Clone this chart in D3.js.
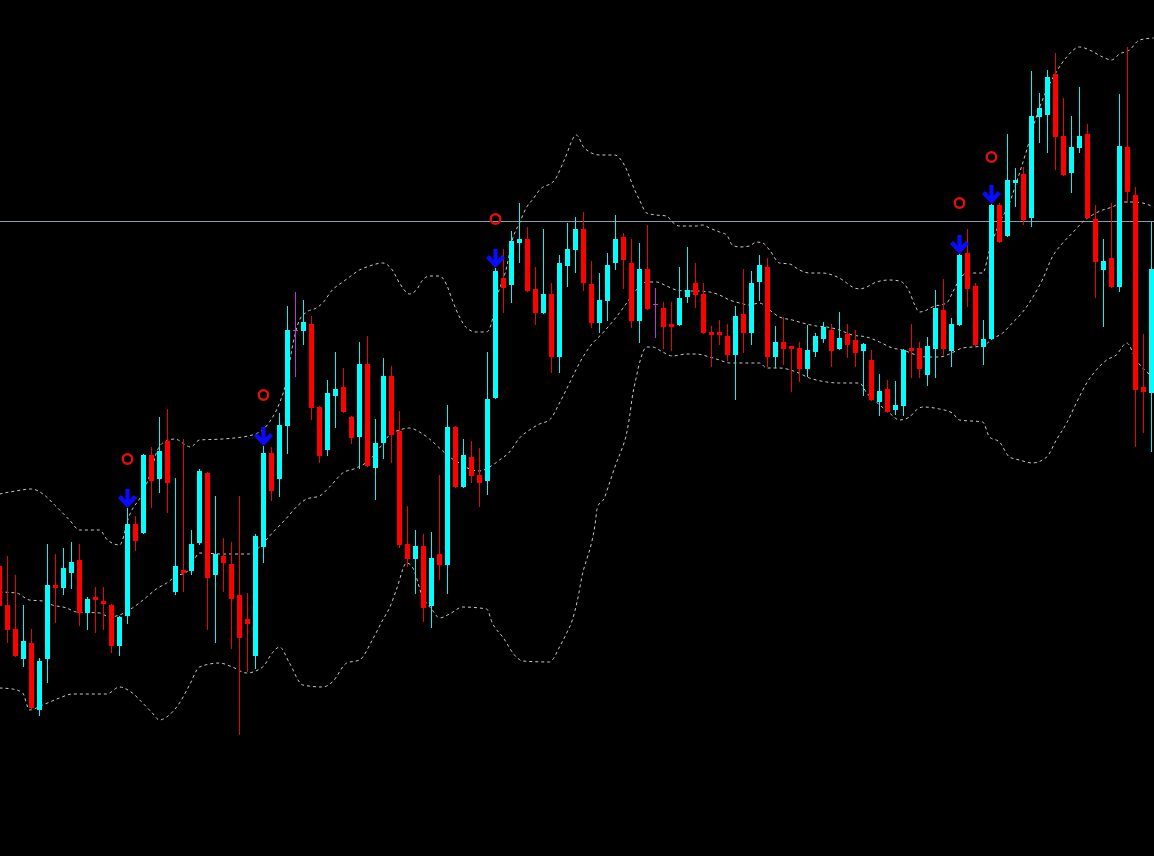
<!DOCTYPE html>
<html><head><meta charset="utf-8">
<script src="https://cdn.jsdelivr.net/npm/d3@7"></script>
<style>html,body{margin:0;padding:0;background:#000;overflow:hidden}svg{display:block}</style>
</head><body>
<svg id="chart" width="1154" height="856"></svg>
<script>
// price levels (arbitrary units), one entry per bar
const open = [434,395,371,341,357,290,341,415,412,427, 440,387,403,399,395,354,384,476,467,545,
  521,559,408,430,429,457,527,425,444,436, 405,381,344,453,547,521,574,670,669,676,
  593,550,604,613,583,563,636,532,557,624, 569,456,441,454,394,446,435,573,513,543,
  525,519,602,722,715,757,761,711,687,706, 643,734,750,771,716,677,699,737,763,737,
  679,731,696,692,676,675,703,717,706,668, 668,664,645,686,667,718,733,643,658,654,
  652,631,648,661,670,651,666,660,649,640, 598,611,590,594,652,652,625,651,690,649,
  675,747,714,653,661,795,764,817,826,782, 883,885,926,864,827,852,866,781,730,742,
  713,853,805,613,607];
const high = [435,444,425,395,371,342,456,446,452,458, 456,403,413,413,396,384,492,484,546,553,
  583,591,522,561,470,531,528,504,462,458, 504,407,466,554,553,587,694,708,700,684,
  594,620,648,632,584,658,664,581,642,634, 589,494,470,466,468,525,595,574,561,559,
  552,648,732,751,769,797,773,733,771,717, 745,777,783,788,739,727,747,785,767,761,
  757,775,712,698,698,733,753,737,717,674, 680,676,694,731,729,745,742,674,683,654,
  658,675,667,678,676,688,676,670,657,650, 626,620,619,651,676,658,663,710,721,682,
  746,771,717,680,796,797,866,832,833,929, 907,930,947,902,884,913,876,795,761,797,
  906,953,813,666,778];
const low = [390,357,343,333,290,284,317,377,405,411, 374,370,367,370,347,344,376,449,466,492,
  507,487,405,408,425,455,370,357,408,351, 265,328,331,437,499,503,546,623,655,580,
  537,544,572,587,556,531,533,500,541,537, 452,433,406,378,372,420,406,512,512,517,
  493,505,601,687,697,737,708,675,686,627, 627,713,727,709,672,667,679,730,711,672,
  657,690,662,651,649,674,697,692,666,633, 655,639,600,647,655,699,633,632,635,608,
  618,623,643,657,633,650,642,633,604,599, 584,587,585,584,622,622,614,622,645,633,
  674,693,654,635,660,757,763,793,775,773, 857,847,830,824,807,847,781,702,673,712,
  708,797,553,567,548];
const close = [394,370,344,359,292,339,415,412,432,438, 387,401,400,396,354,383,476,459,545,519,
  549,517,434,427,456,529,422,446,437,401, 362,376,464,547,509,575,670,670,678,592,
  544,607,611,588,562,636,534,557,624,565, 455,441,454,392,442,435,573,513,545,524,
  517,601,729,712,759,761,709,687,706,643, 737,751,771,717,677,700,735,761,740,679,
  731,691,696,673,673,702,710,705,667,665, 665,645,684,667,717,735,643,658,651,651,
  631,650,664,673,649,662,655,647,656,600, 609,588,595,650,649,631,654,692,651,676,
  745,711,655,661,795,758,820,820,780,884, 892,923,863,825,853,864,782,738,739,713,
  854,808,610,608,731];

// Bollinger bands: [bar position, level]
const upperBand = [[0,506],[2,509],[4,511],[5.6,505],[6.9,495],[8.75,480],[10,470],[12.5,470],[13.5,460],[15,455],
  [16.25,485],[17.9,507],[19,530],[19.6,547],[20.4,557],[21.9,561],[23.9,553],[25,560],[27.9,561],[31.6,565],
  [33.75,578],[35,597],[35.9,620],[36.6,653],[37.5,680],[38.4,688],[39.6,692],[40.4,697],[41.6,710],[42.9,718],
  [43.75,723],[45,730],[46.25,734],[47.9,737],[49.1,730],[50,717],[51.25,706],[52.1,710],[52.9,720],[53.75,724],
  [55,724],[55.9,715],[56.6,700],[57.5,683],[58.4,672],[59.6,668],[60.9,668],[61.5,677],[62.1,700],[63.4,733],
  [64.1,760],[65,777],[65.9,793],[66.6,800],[67.5,810],[69.4,820],[70.6,840],[72.1,865],[73.1,852],[75,845],
  [76.9,845],[78.1,835],[79.4,810],[80,800],[80.9,787],[82.1,785],[83.4,784],[84.1,778],[85,774],[87.1,774],
  [87.9,775],[88.75,772],[90,768],[90.9,765],[91.6,755],[92.5,753],[93.75,754],[94.6,758],[95.4,757],[96.25,750],
  [97.5,737],[98.75,736],[100,730],[101.25,727],[102.9,727],[104.1,725],[105.4,720],[106.6,713],[107.5,711],[108.4,713],
  [109.6,718],[111.25,720],[112.5,719],[113.75,708],[114.4,695],[115,688],[115.9,690],[116.6,693],[118.4,697],[119.1,707],
  [119.75,717],[120.9,727],[122.9,727],[123.75,750],[125,777],[126.25,797],[127.1,817],[128.4,850],[129.6,883],[130.9,910],
  [132.1,928],[133.4,943],[135,953],[136.25,950],[137.9,943],[139,940],[140,946],[141.25,950],[142.5,960],[144.25,962]];
const middleBand = [[0,408],[2.1,407],[3.75,400],[5.4,399],[6.6,395],[8.4,392],[9.6,388],[12.5,387],[13.75,383],[15,385],
  [16.6,392],[18.4,403],[19.6,411],[20.9,417],[22.1,424],[23.4,428],[24.1,437],[25,447],[27.9,446],[31.25,446],
  [32.5,453],[34.1,467],[35.9,482],[37.1,493],[38.4,501],[40,504],[41.25,513],[42.9,527],[44.6,532],[46.25,540],
  [47.5,552],[48.75,565],[50,570],[51.25,572],[52.5,568],[53.75,561],[55,552],[56.25,543],[57.5,537],[58.75,531],
  [60,529],[61.25,533],[62.5,540],[63.75,548],[65,562],[66.25,570],[67.5,576],[68.75,580],[70,597],[71.25,617],
  [72.5,637],[73.75,653],[75.4,667],[77.1,683],[78.4,697],[79.6,710],[80.9,718],[82.1,718],[83.4,714],[84.6,710],
  [85.9,709],[87.1,709],[88.75,708],[90,705],[91.25,700],[92.5,697],[93.75,695],[95,697],[96.25,690],[97.5,683],
  [99.1,680],[100.4,677],[102.1,674],[103.4,673],[105,670],[106.6,665],[108.4,663],[110,658],[111.6,652],[112.9,650],
  [114.6,645],[115.9,643],[117.5,643],[118.75,646],[120.4,652],[122.9,654],[124.1,661],[125.4,667],[126.6,677],[127.9,688],
  [129.1,702],[130.4,721],[131.6,743],[132.9,757],[134.1,767],[135.4,778],[136.6,785],[137.9,790],[139.1,793],[140.4,798],
  [141.6,798],[142.9,797],[144.25,793]];
const lowerBand = [[0,312],[1.6,311],[2.9,307],[3.75,290],[5.4,295],[7.5,302],[9.1,306],[13.4,306],[15,313],[16.6,307],
  [17.9,297],[19.1,287],[20,280],[20.9,283],[22.5,297],[23.75,315],[25,333],[27.5,337],[29.1,333],[30.9,327],
  [32.9,333],[34.1,347],[35,353],[36.25,337],[37.9,315],[40.4,313],[41.6,318],[43.4,337],[45,340],[46.6,360],
  [47.9,380],[48.75,392],[49.6,410],[50.9,437],[51.6,433],[52.9,403],[54.1,390],[55,382],[56.25,386],[57.9,393],
  [60.9,391],[61.6,377],[62.9,363],[64.6,343],[65.4,339],[68.75,338],[69.1,340],[70,353],[70.9,367],[71.6,380],
  [72.25,400],[72.9,427],[73.5,443],[74,457],[74.4,473],[74.75,493],[75.6,502],[76.25,517],[77.1,537],[77.75,550],
  [78.4,567],[78.75,583],[79.1,603],[79.6,623],[80,637],[80.9,653],[81.6,653],[82.9,648],[84.1,644],[85.9,646],
  [87.1,646],[88.75,643],[90,640],[91.25,637],[92.5,637],[95,637],[95.9,632],[97.5,632],[99.6,628],[101.25,622],
  [103.4,618],[105,617],[107.5,617],[108.4,607],[109.6,598],[111.25,587],[112.5,580],[113.75,583],[114.6,590],[115.4,593],
  [117.5,591],[119.1,587],[120,580],[122.9,578],[123.75,563],[125,558],[126.25,543],[127.5,540],[129.1,537],[130.9,543],
  [132.1,560],[133.4,577],[134.6,597],[135.9,617],[137.1,630],[138.4,640],[139.6,645],[140.9,657],[142.1,640],[143.4,628],
  [144.25,623]];

// signal markers
const arrowBars = [16, 33, 62, 120, 124];
const circleBars = [16, 33, 62, 120, 124];
const circleLevels = [541, 605, 781, 797, 843];
const hLineLevel = 779;

const W = 1154, H = 856;
const svg = d3.select("#chart");
svg.append("rect").attr("width", W).attr("height", H).attr("fill", "#000");

const x = d3.scaleLinear().domain([0, 144]).range([-0.5, 1151.5]);
const y = d3.scaleLinear().domain([144, 1000]).range([H, 0]);

const bars = open.map((o, i) => ({i, o, h: high[i], l: low[i], c: close[i]}));
const col = d => d.c > d.o ? "#00ffff" : (d.c < d.o ? "#ff0000" : "#c23cc8");
const wickCol = d => d.c > d.o ? "#10f0f0" : (d.c < d.o ? "#e00808" : "#b838c8");

// horizontal level line
svg.append("line").attr("x1", 0).attr("x2", W)
  .attr("y1", Math.round(y(hLineLevel)) + 0.5).attr("y2", Math.round(y(hLineLevel)) + 0.5)
  .attr("stroke", "#8c98b0").attr("stroke-width", 1);

// bands
const line = d3.line().x(d => x(d[0])).y(d => y(d[1])).curve(d3.curveMonotoneX);
[upperBand, middleBand, lowerBand].forEach(b => {
  svg.append("path").attr("d", line(b)).attr("fill", "none")
    .attr("stroke", "#c8c8c8").attr("stroke-width", 1).attr("stroke-dasharray", "3,3");
});

// candles
const g = svg.append("g").attr("shape-rendering", "crispEdges");
g.selectAll("line.wick").data(bars).join("line").attr("class", "wick")
  .attr("x1", d => x(d.i)).attr("x2", d => x(d.i))
  .attr("y1", d => y(d.h)).attr("y2", d => y(d.l))
  .attr("stroke", wickCol).attr("stroke-width", 1);
g.selectAll("rect.body").data(bars.filter(d => d.c !== d.o)).join("rect").attr("class", "body")
  .attr("x", d => x(d.i) - 2.5).attr("width", 5)
  .attr("y", d => y(Math.max(d.o, d.c)))
  .attr("height", d => Math.max(1, Math.abs(y(d.o) - y(d.c))))
  .attr("fill", col);
g.selectAll("line.doji").data(bars.filter(d => d.c === d.o)).join("line").attr("class", "doji")
  .attr("x1", d => x(d.i) - 2.5).attr("x2", d => x(d.i) + 2.5)
  .attr("y1", d => Math.round(y(d.o)) + 0.5).attr("y2", d => Math.round(y(d.o)) + 0.5)
  .attr("stroke", col).attr("stroke-width", 1);

// arrows (down) with tip at the bar high
arrowBars.forEach(i => {
  const cx = x(i), tip = y(high[i]);
  svg.append("path")
    .attr("d", `M${cx},${tip - 19} L${cx},${tip - 3} M${cx - 8},${tip - 11.5} L${cx},${tip - 3} L${cx + 8},${tip - 11.5}`)
    .attr("fill", "none").attr("stroke", "#0a0aff").attr("stroke-width", 4.2)
    .attr("stroke-linejoin", "miter");
});

// circles
circleBars.forEach((i, k) => {
  svg.append("circle").attr("cx", x(i)).attr("cy", y(circleLevels[k])).attr("r", 4.8)
    .attr("fill", "none").attr("stroke", "#e01010").attr("stroke-width", 2.4);
});
</script>
</body></html>
